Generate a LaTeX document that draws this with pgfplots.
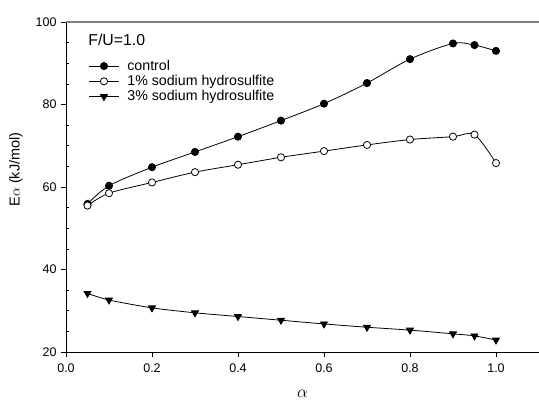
\documentclass[border=0pt]{standalone}
\usepackage{fontspec}
\setmainfont{Liberation Sans}
\usepackage{pgfplots}
\pgfplotsset{compat=1.18}
\begin{document}
\begin{tikzpicture}
\begin{axis}[
  name=ax,
  scale only axis,
  width=473bp, height=330bp,
  xmin=0, xmax=1.1, ymin=20, ymax=100,
  axis x line*=bottom, axis y line*=left,
  axis line style={line width=0.8bp, -},
  xtick={0,0.2,0.4,0.6,0.8,1.0},
  ytick={20,40,60,80,100},
  extra y ticks={25,30,35,45,50,55,65,70,75,85,90,95},
  extra y tick labels={},
  extra y tick style={tick align=inside, major tick length=3bp},
  tick align=outside,
  major tick length=5bp,
  tick style={line width=0.6bp, black},
  /pgf/number format/assume math mode=true,
  x tick label style={yshift=-3bp},
  xticklabel={\pgfmathprintnumber[fixed, fixed zerofill, precision=1]{\tick}},
  yticklabel style={xshift=-1bp},
  tick label style={font=\fontsize{12.5bp}{14bp}\selectfont},
  xlabel={$\alpha$},
  xlabel style={font=\fontsize{17bp}{18bp}\selectfont, at={(axis description cs:0.5,-0.115)}, anchor=north, inner sep=0pt},
  ylabel={E$\alpha$ (kJ/mol)},
  ylabel style={font=\fontsize{14.5bp}{16bp}\selectfont, at={(axis description cs:-0.106,0.553)}, anchor=center},
  legend style={draw=none, fill=none, at={(rel axis cs:0.041,0.897)}, anchor=north west,
    font=\fontsize{14.2bp}{16bp}\selectfont, row sep=-0.5bp, column sep=2bp},
  legend cell align=left,
  legend style={nodes={inner xsep=6bp}},
  legend image code/.code={\draw[mark repeat=2,mark phase=2] plot coordinates {(0bp,0bp) (15bp,0bp) (30bp,0bp)};},
  every axis plot/.append style={line width=0.8bp, black, smooth, tension=0.5},
]
\addplot[mark=*, mark size=3.6bp, mark options={fill=black}] coordinates {
(0.05,55.9) (0.1,60.3) (0.2,64.8) (0.3,68.5) (0.4,72.2) (0.5,76.1) (0.6,80.2) (0.7,85.2) (0.8,91.0) (0.9,94.8) (0.95,94.4) (1.0,93.0)};
\addlegendentry{control}
\addplot[mark=*, mark size=3.6bp, mark options={fill=white}] coordinates {
(0.05,55.5) (0.1,58.5) (0.2,61.1) (0.3,63.6) (0.4,65.4) (0.5,67.2) (0.6,68.7) (0.7,70.2) (0.8,71.5) (0.9,72.2) (0.95,72.7) (1.0,65.8)};
\addlegendentry{1\% sodium hydrosulfite}
\addplot[mark=triangle*, mark size=4bp, mark options={fill=black, rotate=180}] coordinates {
(0.05,34.2) (0.1,32.6) (0.2,30.7) (0.3,29.5) (0.4,28.6) (0.5,27.7) (0.6,26.8) (0.7,26.0) (0.8,25.3) (0.9,24.4) (0.95,23.9) (1.0,22.9)};
\addlegendentry{3\% sodium hydrosulfite}
\node[anchor=west, font=\fontsize{15.8bp}{17bp}\selectfont] at (rel axis cs:0.04,0.945) {F/U=1.0};
\end{axis}
\draw[gray, line width=1.2bp] (ax.north west) -- (ax.north east);
\pgfresetboundingbox
\path ([shift={(-66bp,-49bp)}]ax.south west) rectangle ([shift={(0bp,22bp)}]ax.north east);
\end{tikzpicture}
\end{document}
